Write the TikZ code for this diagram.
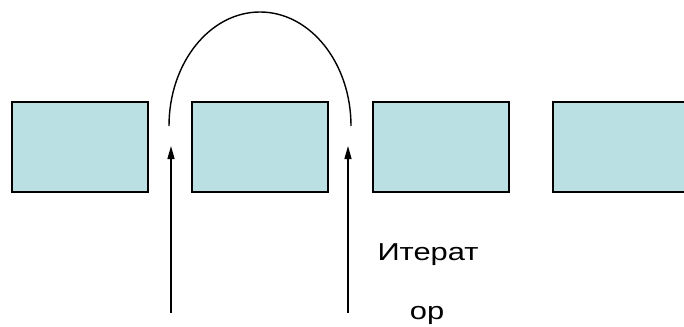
\documentclass[tikz,border=0pt]{standalone}
\usepackage{fontspec}
\setmainfont{Liberation Sans}
\usetikzlibrary{arrows.meta}
\definecolor{boxfill}{RGB}{187,224,227}
\begin{document}
\begin{tikzpicture}[x=1pt,y=-1pt,
  cell/.style={draw=black,line width=2pt,fill=boxfill,minimum width=136pt,minimum height=90pt,inner sep=0pt,anchor=north west},
  conn/.style={line width=1.4pt},
  ptr/.style={line width=1.4pt,-{Triangle[length=13pt,width=7pt]}},
  lbl/.style={font=\fontsize{24.5}{28}\selectfont,anchor=base,inner sep=0pt}]
\useasboundingbox (0,0) rectangle (684,326);
\node[cell] (b1) at (11,101) {};
\node[cell] (b2) at (190.5,101) {};
\node[cell] (b3) at (371.5,101) {};
\node[cell] (b4) at (551.5,101) {};
\coordinate (a1s) at (171,313);
\coordinate (a1e) at (171,146);
\coordinate (a2s) at (348,313);
\coordinate (a2e) at (348,146);
\coordinate (arcL) at (169,126);
\draw[ptr] (a1s) -- (a1e);
\draw[ptr] (a2s) -- (a2e);
\draw[conn] (arcL) arc[start angle=180,end angle=360,x radius=91,y radius=114];
\node[lbl] (lbl1) at (428,260) {\scalebox{1.26}[1]{Итерат}};
\node[lbl] (lbl2) at (427,319) {\scalebox{1.26}[1]{ор}};
\end{tikzpicture}
\end{document}
